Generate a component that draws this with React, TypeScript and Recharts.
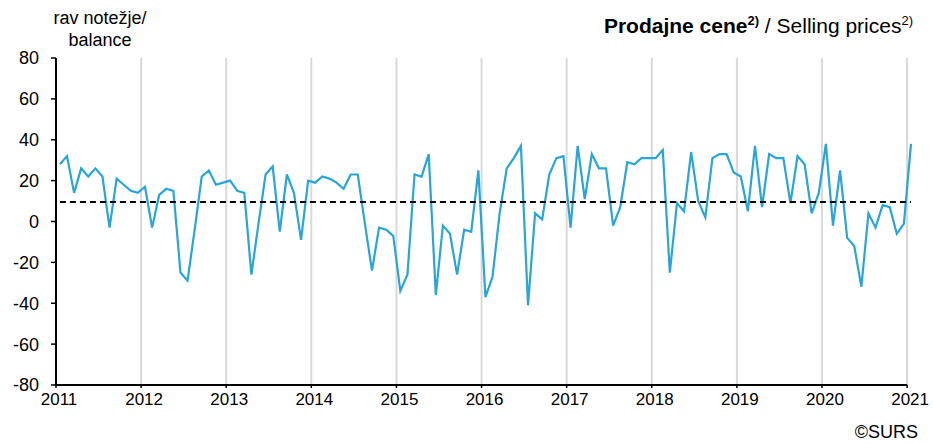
import React from 'react';
import {
  LineChart, Line, XAxis, YAxis, CartesianGrid, ReferenceLine
} from 'recharts';

// monthly balance, Jan 2011 .. Jan 2021
const balance = [
  28, 32, 14, 26, 22, 26, 22, -3, 21, 18, 15, 14,
  17, -3, 13, 16, 15, -25, -29, -4, 22, 25, 18, 19,
  20, 15, 14, -26, -1, 23, 27, -5, 23, 14, -9, 20,
  19, 22, 21, 19, 16, 23, 23, -1, -24, -3, -4, -7,
  -34, -26, 23, 22, 33, -36, -2, -6, -26, -4, -5, 25,
  -37, -27, 4, 26, 31, 37, -41, 4, 1, 23, 31, 32,
  -3, 37, 11, 33, 26, 26, -2, 7, 29, 28, 31, 31,
  31, 35, -25, 9, 5, 34, 10, 2, 31, 33, 33, 24,
  22, 5, 37, 7, 33, 31, 31, 9, 32, 28, 4, 14,
  38, -2, 25, -8, -12, -32, 4, -3, 8, 7, -6, -1,
  38,
];

const average = 9.6;

const years = ['2011', '2012', '2013', '2014', '2015', '2016', '2017', '2018', '2019', '2020', '2021'];
const yTicks = [-80, -60, -40, -20, 0, 20, 40, 60, 80];

const data = balance.map((v, i) => ({ x: i + 0.55, value: v, avg: average }));
const xTicks = years.map((_, i) => i * 12);

const font = '"Liberation Sans", Arial, sans-serif';

export default function App() {
  return (
    <div style={{ position: 'absolute', left: 0, top: 0, width: 933, height: 444, background: '#fff', fontFamily: font }}>
      <LineChart width={933} height={444} data={data} margin={{ top: 58, right: 22, bottom: 0, left: 0 }}>
        <CartesianGrid horizontal={false} syncWithTicks stroke="#d9d9d9" strokeWidth={2} />
        <XAxis
          type="number"
          dataKey="x"
          domain={[0, 120.55]}
          ticks={xTicks}
          tickFormatter={(v: number) => years[Math.round(v / 12)]}
          height={59}
          axisLine={false}
          tickLine={{ stroke: '#000', strokeWidth: 1.5 }}
          tickSize={3}
          tickMargin={5}
          tick={{ fill: '#000', fontSize: 17, fontFamily: font, dx: 3 }}
          interval={0}
        />
        <YAxis
          domain={[-80, 80]}
          ticks={yTicks}
          width={56}
          axisLine={{ stroke: '#000', strokeWidth: 2 }}
          tickLine={{ stroke: '#000', strokeWidth: 1.5 }}
          tickSize={5}
          tickMargin={12}
          tick={{ fill: '#000', fontSize: 18, fontFamily: font }}
          interval={0}
        />
        <ReferenceLine
          segment={[{ x: 0, y: -80 }, { x: 120, y: -80 }]}
          stroke="#000"
          strokeWidth={2}
        />
        <Line
          type="linear"
          dataKey="value"
          stroke="#2aa5d8"
          strokeWidth={2.2}
          dot={false}
          isAnimationActive={false}
        />
        <Line
          type="linear"
          dataKey="avg"
          stroke="#000"
          strokeWidth={2}
          strokeDasharray="6 4"
          dot={false}
          isAnimationActive={false}
        />
      </LineChart>

      <div style={{ position: 'absolute', left: 40, top: 7, width: 120, textAlign: 'center', fontSize: 18, lineHeight: '22px', color: '#000' }}>
        rav notežje/<br />balance
      </div>

      <div style={{ position: 'absolute', right: 20, top: 9, fontSize: 21, lineHeight: '24px', color: '#000', whiteSpace: 'nowrap' }}>
        <b>Prodajne cene<sup style={{ fontSize: 13 }}>2)</sup></b> / Selling prices<sup style={{ fontSize: 13 }}>2)</sup>
      </div>

      <div style={{ position: 'absolute', right: 15, top: 421, fontSize: 18, lineHeight: '22px', color: '#000' }}>
        ©SURS
      </div>
    </div>
  );
}
